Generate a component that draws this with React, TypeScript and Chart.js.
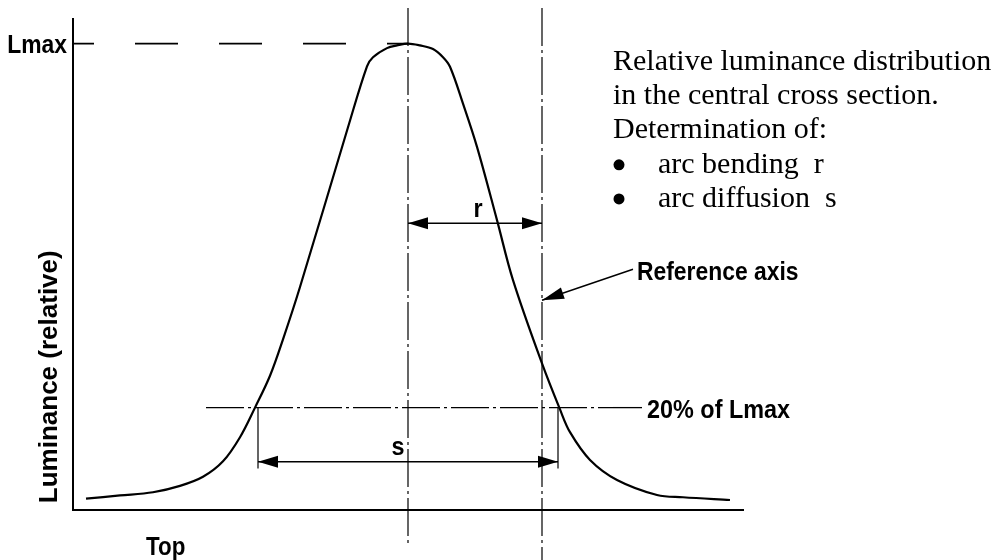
import React, { useEffect, useRef } from "react";
import { Chart, registerables } from "chart.js";

Chart.register(...registerables);

// ---- data (x: position across the arc, centre = 0; y: relative luminance, Lmax = 1) ----
const curveX = [-32.2, -28.8, -25.5, -22.8, -20.5, -18.5, -16.8, -15.3, -13.8, -12.5, -10.8, -6.0, -4.1, -3.5, -2.1, -1.1, 0, 1.2, 2.5, 3.5, 4.2, 5.5, 6.9, 8.9, 10.5, 13.4, 15.2, 16.2, 18.2, 20.9, 24.9, 27.5, 32.2];
const curveY = [0.0, 0.007, 0.014, 0.028, 0.048, 0.082, 0.135, 0.2, 0.27, 0.35, 0.465, 0.816, 0.95, 0.97, 0.99, 0.996, 1.0, 0.996, 0.988, 0.97, 0.949, 0.868, 0.773, 0.612, 0.48, 0.297, 0.196, 0.146, 0.085, 0.041, 0.008, 0.003, -0.003];

const X_RANGE = [-33.5, 33.5];
const Y_RANGE = [-0.025, 1.054];

const LMAX = 1.0;
const THRESHOLD = 0.2; // 20% of Lmax
const CENTER_X = 0;
const REF_AXIS_X = 13.4;
const S_ENDS = [-15.0, 15.0];
const R_LEVEL = 0.605;
const S_LEVEL = 0.081;
const S_EXT_BOTTOM = 0.066;
const V_LINE_TOP = 1.078;
const CENTER_LINE_BOTTOM = -0.102;
const REF_LINE_BOTTOM = -0.135;
const LEVEL_LINE_X = [-20.2, 20.5, 23.4]; // dash-dot start, dash-dot end / leader start, leader end
const POINTER_FROM = [22.5, 0.504];
const POINTER_TO = [13.4, 0.436];

const descLines = ["Relative luminance distribution", "in the central cross section.", "Determination of:"];
const bulletLines = ["arc bending  r", "arc diffusion  s"];
const descX = 20.5;
const bulletX = 21.1;
const bulletTextX = 25.0;
const descBaselines = [0.942, 0.867, 0.792, 0.716, 0.641];

type Label = { text: string; x: number; y: number; align: CanvasTextAlign; sx: number; rotate?: boolean };
const labels: Label[] = [
  { text: "Lmax", x: -34.1, y: 0.979, align: "right", sx: 0.88 },
  { text: "20% of Lmax", x: 23.9, y: 0.177, align: "left", sx: 0.9 },
  { text: "Reference axis", x: 22.9, y: 0.48, align: "left", sx: 0.88 },
  { text: "r", x: 7.0, y: 0.619, align: "center", sx: 0.9 },
  { text: "s", x: -1.0, y: 0.096, align: "center", sx: 0.9 },
  { text: "Top", x: -26.2, y: -0.124, align: "left", sx: 0.86 },
  { text: "Luminance (relative)", x: -35.1, y: -0.01, align: "left", sx: 1, rotate: true },
];

const SANS_BOLD = "bold 26px 'Liberation Sans', Arial, sans-serif";
const SERIF = "30px 'Liberation Serif', 'Times New Roman', serif";
const DASH_DOT = [38, 4, 3, 4];

function pts(xs: number[], ys: number[]) {
  return xs.map((x, i) => ({ x, y: ys[i] }));
}

function seg(xs: number[], ys: number[], extra: any = {}) {
  return {
    data: pts(xs, ys),
    borderColor: "#000",
    borderWidth: 1.3,
    pointRadius: 0,
    tension: 0,
    clip: false as any,
    fill: false,
    ...extra,
  };
}

function arrowHead(ctx: CanvasRenderingContext2D, tip: number[], from: number[], len = 20, half = 6) {
  const dx = tip[0] - from[0];
  const dy = tip[1] - from[1];
  const d = Math.hypot(dx, dy) || 1;
  const ux = dx / d, uy = dy / d;
  const bx = tip[0] - ux * len, by = tip[1] - uy * len;
  ctx.beginPath();
  ctx.moveTo(tip[0], tip[1]);
  ctx.lineTo(bx - uy * half, by + ux * half);
  ctx.lineTo(bx + uy * half, by - ux * half);
  ctx.closePath();
  ctx.fill();
}

const annotationPlugin = {
  id: "annotations",
  afterDraw(chart: any) {
    const { ctx, scales } = chart;
    const P = (x: number, y: number) => [scales.x.getPixelForValue(x), scales.y.getPixelForValue(y)];
    ctx.save();
    ctx.fillStyle = "#000";
    // arrowheads: r
    arrowHead(ctx, P(CENTER_X, R_LEVEL), P(REF_AXIS_X, R_LEVEL));
    arrowHead(ctx, P(REF_AXIS_X, R_LEVEL), P(CENTER_X, R_LEVEL));
    // arrowheads: s
    arrowHead(ctx, P(S_ENDS[0], S_LEVEL), P(S_ENDS[1], S_LEVEL));
    arrowHead(ctx, P(S_ENDS[1], S_LEVEL), P(S_ENDS[0], S_LEVEL));
    // pointer to reference axis
    arrowHead(ctx, P(POINTER_TO[0], POINTER_TO[1]), P(POINTER_FROM[0], POINTER_FROM[1]), 22, 6);

    // bold labels
    ctx.font = SANS_BOLD;
    ctx.textBaseline = "alphabetic";
    for (const l of labels) {
      const [px, py] = P(l.x, l.y);
      ctx.save();
      ctx.translate(px, py);
      if (l.rotate) ctx.rotate(-Math.PI / 2);
      ctx.scale(l.sx, 1);
      ctx.textAlign = l.align;
      ctx.fillText(l.text, 0, 0);
      ctx.restore();
    }

    // description text
    ctx.font = SERIF;
    ctx.textAlign = "left";
    descLines.forEach((t, i) => {
      const [px, py] = P(descX, descBaselines[i]);
      ctx.fillText(t, px, py);
    });
    bulletLines.forEach((t, i) => {
      const [bx, by] = P(bulletX, descBaselines[descLines.length + i]);
      ctx.beginPath();
      ctx.arc(bx, by - 8, 5.5, 0, Math.PI * 2);
      ctx.fill();
      const [tx] = P(bulletTextX, 0);
      ctx.fillText(t, tx, by);
    });
    ctx.restore();
  },
};

export default function App() {
  const ref = useRef<HTMLCanvasElement | null>(null);

  useEffect(() => {
    if (!ref.current) return;
    const chart = new Chart(ref.current, {
      type: "line",
      data: {
        datasets: [
          // luminance curve
          {
            data: pts(curveX, curveY),
            borderColor: "#000",
            borderWidth: 2.2,
            pointRadius: 0,
            tension: 0.35,
            fill: false,
          } as any,
          // Lmax dashed line
          seg([X_RANGE[0], CENTER_X], [LMAX, LMAX], { borderWidth: 1.7, borderDash: [43, 41], borderDashOffset: 22 }),
          // central dash-dot axis
          seg([CENTER_X, CENTER_X], [V_LINE_TOP, CENTER_LINE_BOTTOM], { borderWidth: 1.2, borderDash: DASH_DOT }),
          // reference axis
          seg([REF_AXIS_X, REF_AXIS_X], [V_LINE_TOP, REF_LINE_BOTTOM], { borderWidth: 1.2, borderDash: DASH_DOT }),
          // 20% level line
          seg([LEVEL_LINE_X[0], LEVEL_LINE_X[1]], [THRESHOLD, THRESHOLD], { borderWidth: 1.2, borderDash: DASH_DOT }),
          seg([LEVEL_LINE_X[1], LEVEL_LINE_X[2]], [THRESHOLD, THRESHOLD], { borderWidth: 1.3 }),
          // s extension lines
          seg([S_ENDS[0], S_ENDS[0]], [THRESHOLD, S_EXT_BOTTOM], { borderWidth: 1.2 }),
          seg([S_ENDS[1], S_ENDS[1]], [THRESHOLD, S_EXT_BOTTOM], { borderWidth: 1.2 }),
          // r and s dimension lines
          seg([CENTER_X, REF_AXIS_X], [R_LEVEL, R_LEVEL], { borderWidth: 1.4 }),
          seg([S_ENDS[0], S_ENDS[1]], [S_LEVEL, S_LEVEL], { borderWidth: 1.4 }),
          // pointer line
          seg([POINTER_FROM[0], POINTER_TO[0]], [POINTER_FROM[1], POINTER_TO[1]], { borderWidth: 1.4 }),
        ],
      },
      options: {
        animation: false,
        responsive: false,
        events: [],
        layout: { padding: { left: 73, right: 254, top: 19, bottom: 50 } },
        plugins: {
          legend: { display: false },
          tooltip: { enabled: false },
          title: { display: false },
        },
        scales: {
          x: {
            type: "linear",
            min: X_RANGE[0],
            max: X_RANGE[1],
            grid: { display: false, drawTicks: false },
            ticks: { display: false },
            border: { display: true, color: "#000", width: 2 },
          },
          y: {
            type: "linear",
            min: Y_RANGE[0],
            max: Y_RANGE[1],
            grid: { display: false, drawTicks: false },
            ticks: { display: false },
            border: { display: true, color: "#000", width: 2 },
          },
        },
      },
      plugins: [annotationPlugin],
    });
    return () => chart.destroy();
  }, []);

  return (
    <div style={{ position: "absolute", left: 0, top: 0, width: 997, height: 560, background: "#fff" }}>
      <canvas ref={ref} width={997} height={560} style={{ display: "block" }} />
    </div>
  );
}
